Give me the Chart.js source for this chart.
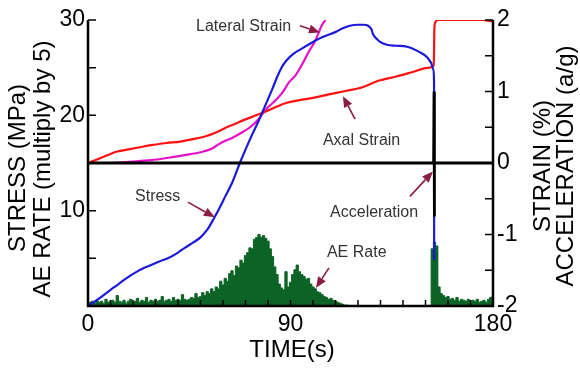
<!DOCTYPE html>
<html>
<head>
<meta charset="utf-8">
<script src="https://cdn.jsdelivr.net/npm/chart.js@4.4.0/dist/chart.umd.min.js"></script>
<style>
  body { margin: 0; background: #fff; }
</style>
</head>
<body>
<canvas id="chart" width="580" height="370"></canvas>
<script>
// stress (MPa), left axis
const stressTime = [0, 5, 10, 13, 17, 21, 25, 28, 32, 35.5, 40, 43, 47, 50, 53, 56, 58.5, 61, 64, 67.5, 70, 73, 76, 78, 80, 82, 84, 86, 88, 91, 95, 100, 104, 107.5, 110.5, 113, 116.4, 120, 122.3, 124.5, 126, 126.7, 128.4, 129.8, 132.9, 137, 141.8, 147.6, 150.7, 152.5, 153.5, 153.8, 153.85];
const stressValue = [0, 0.8, 1.7, 2.2, 2.9, 3.5, 4.0, 4.3, 4.7, 5.0, 5.6, 6.1, 6.7, 7.2, 8.0, 9.2, 10.3, 11.5, 12.9, 15.0, 16.4, 18.0, 19.5, 20.6, 21.7, 22.8, 24.0, 25.0, 25.7, 26.4, 27.0, 27.7, 28.2, 28.5, 28.8, 29.1, 29.4, 29.5, 29.5, 29.4, 29.0, 28.5, 28.0, 27.7, 27.4, 27.3, 27.2, 26.6, 26.1, 25.5, 24.8, 23.5, 4.8];

// axial strain (%), right axis
const axialTime = [0, 4, 8, 13, 18, 23, 28, 35, 41, 46, 52, 57, 61, 64, 70, 75, 79, 84, 88, 94, 100, 107, 115, 122, 129, 137, 144, 151, 153.6, 153.8, 153.9, 154.4, 155.5, 165, 175, 180];
const axialValue = [0, 0.05, 0.1, 0.16, 0.19, 0.22, 0.25, 0.28, 0.3, 0.33, 0.37, 0.43, 0.49, 0.53, 0.61, 0.67, 0.72, 0.79, 0.84, 0.88, 0.91, 0.96, 1.01, 1.06, 1.15, 1.21, 1.27, 1.33, 1.36, 1.55, 1.85, 1.97, 2.0, 2.0, 2.0, 1.98];

// lateral strain (%), right axis
const lateralTime = [0, 10, 15, 20, 28, 35, 43, 50, 55, 58, 61, 64, 68, 72, 76, 78, 80, 83.5, 86.3, 89.4, 92.3, 95, 98, 101, 104, 105.5];
const lateralValue = [0, 0, 0.01, 0.02, 0.04, 0.07, 0.11, 0.15, 0.2, 0.26, 0.31, 0.35, 0.42, 0.5, 0.62, 0.71, 0.78, 0.88, 0.98, 1.13, 1.23, 1.37, 1.55, 1.71, 1.93, 2.0];

// acceleration (a/g), right axis
const accelTime = [0, 153.6, 153.8, 153.9, 154.0, 180];
const accelValue = [0, 0, 1.0, -0.75, 0, 0];

// AE rate per second (x5), left axis, t = 0..180
const aeRate = [
  0.2, 0.4, 0.5, 0.3, 0.6, 0.4, 0.5, 0.3, 0.7, 0.4,
  0.5, 0.6, 0.4, 1.1, 0.5, 0.4, 0.6, 0.3, 0.5, 0.7,
  0.4, 0.5, 0.8, 0.4, 0.6, 0.5, 0.9, 0.4, 0.6, 0.5,
  0.7, 0.5, 0.6, 1.0, 0.5, 0.6, 0.7, 0.5, 0.9, 0.6,
  0.7, 0.6, 1.2, 0.7, 0.6, 0.7, 0.9, 0.8, 1.3, 0.9,
  1.0, 1.4, 1.1, 1.5, 1.3, 1.8, 1.5, 2.0, 1.8, 2.6,
  2.2, 2.9, 2.6, 3.4, 3.7, 3.2, 4.2, 4.0, 4.8, 4.5,
  5.3, 5.6, 6.1, 6.0, 7.0, 7.2, 7.5, 7.2, 7.4, 7.1,
  6.8, 6.0, 5.2, 4.1, 3.3, 2.3, 1.9, 1.7, 3.6, 2.0,
  2.5, 3.3, 3.8, 4.3, 3.6, 3.3, 3.1, 2.8, 2.9, 2.3,
  2.0, 1.8, 1.5, 1.4, 1.2, 1.0, 0.9, 0.7, 0.8, 0.6,
  0.5, 0.4, 0.3, 0.2, 0.1, 0.1, 0, 0, 0, 0,
  0, 0, 0, 0, 0, 0, 0, 0, 0, 0,
  0, 0, 0, 0, 0, 0, 0, 0, 0, 0,
  0, 0, 0, 0, 0, 0, 0, 0, 0, 0,
  0, 0, 0, 6.0, 6.7, 6.3, 2.0, 1.3, 1.1, 0.9,
  1.0, 0.7, 0.8, 0.6, 0.9, 0.5, 0.7, 0.6, 0.5, 0.7,
  0.4, 0.6, 0.5, 0.7, 0.4, 0.5, 0.6, 0.4, 0.7, 0.9,
  1.0
];

// callouts: text anchor and arrow (time, stress units)
const noteText = ['Lateral Strain', 'Axal Strain', 'Stress', 'Acceleration', 'AE Rate'];
const noteAt = [[48, 29.3], [104.4, 17.3], [20.9, 11.5], [107.6, 9.8], [106.2, 5.6]];
const arrowFrom = [[94.2, 29.4], [118.7, 19.6], [44.4, 10.9], [143.1, 11.5], [107.1, 4.0]];
const arrowTo = [[103.1, 28.7], [113.3, 22.0], [56.4, 9.3], [153.3, 14.1], [101.3, 1.9]];

const FONT = '"Liberation Sans", Arial, sans-serif';

function pts(xs, ys) {
  return xs.map((x, i) => ({ x: x, y: ys[i] }));
}

const decor = {
  id: 'decor',
  afterDatasetsDraw(chart) {
    const { ctx, chartArea: a, scales } = chart;
    const sx = scales.x, sl = scales.y, sr = scales.y2;
    ctx.save();
    ctx.strokeStyle = '#000';
    ctx.lineWidth = 1.5;
    ctx.beginPath();
    for (let v = 5; v <= 30; v += 5) {
      const py = sl.getPixelForValue(v);
      ctx.moveTo(a.left, py); ctx.lineTo(a.left + 8, py);
    }
    for (let v = -1.5; v <= 2; v += 0.5) {
      const py = sr.getPixelForValue(v);
      ctx.moveTo(a.right, py); ctx.lineTo(a.right - 8, py);
    }
    for (let v = 10; v < 180; v += 10) {
      const px = sx.getPixelForValue(v);
      ctx.moveTo(px, a.bottom); ctx.lineTo(px, a.bottom - 6);
    }
    ctx.stroke();

    // frame: left, bottom, right
    ctx.lineWidth = 2.5;
    ctx.beginPath();
    ctx.moveTo(a.left, a.top);
    ctx.lineTo(a.left, a.bottom);
    ctx.lineTo(a.right, a.bottom);
    ctx.lineTo(a.right, a.top);
    ctx.stroke();

    // callouts
    ctx.fillStyle = '#333';
    ctx.font = '16px ' + FONT;
    ctx.textBaseline = 'middle';
    ctx.textAlign = 'left';
    noteText.forEach((t, i) => {
      ctx.fillText(t, sx.getPixelForValue(noteAt[i][0]), sl.getPixelForValue(noteAt[i][1]));
    });
    ctx.strokeStyle = '#8b1c43';
    ctx.fillStyle = '#8b1c43';
    ctx.lineWidth = 1.6;
    arrowFrom.forEach((f, i) => {
      const x0 = sx.getPixelForValue(f[0]), y0 = sl.getPixelForValue(f[1]);
      const x1 = sx.getPixelForValue(arrowTo[i][0]), y1 = sl.getPixelForValue(arrowTo[i][1]);
      const ang = Math.atan2(y1 - y0, x1 - x0);
      const hl = 11, hw = 4.5;
      const bx = x1 - hl * Math.cos(ang), by = y1 - hl * Math.sin(ang);
      ctx.beginPath();
      ctx.moveTo(x0, y0); ctx.lineTo(bx, by);
      ctx.stroke();
      ctx.beginPath();
      ctx.moveTo(x1, y1);
      ctx.lineTo(bx + hw * Math.sin(ang), by - hw * Math.cos(ang));
      ctx.lineTo(bx - hw * Math.sin(ang), by + hw * Math.cos(ang));
      ctx.closePath();
      ctx.fill();
    });

    // axis titles
    ctx.fillStyle = '#000';
    ctx.font = '24px ' + FONT;
    ctx.textAlign = 'center';
    ctx.textBaseline = 'alphabetic';
    const vtitle = (text, x, y) => {
      ctx.save();
      ctx.translate(x, y);
      ctx.rotate(-Math.PI / 2);
      ctx.fillText(text, 0, 0);
      ctx.restore();
    };
    vtitle('STRESS (MPa)', 25, 168);
    vtitle('AE RATE (multiply by 5)', 50, 169);
    vtitle('STRAIN (%)', 550, 166);
    vtitle('ACCELERATION (a/g)', 573, 166);
    ctx.fillText('TIME(s)', 292, 357);
    ctx.restore();
  }
};

new Chart(document.getElementById('chart'), {
  type: 'line',
  data: {
    datasets: [
      {
        label: 'Acceleration',
        data: pts(accelTime, accelValue),
        yAxisID: 'y2',
        borderColor: '#000',
        borderWidth: 2.8,
        order: 0
      },
      {
        label: 'Stress',
        data: pts(stressTime, stressValue),
        yAxisID: 'y',
        borderColor: '#1a1ad8',
        borderWidth: 2.2,
        cubicInterpolationMode: 'monotone',
        order: 1
      },
      {
        label: 'Axal Strain',
        data: pts(axialTime, axialValue),
        yAxisID: 'y2',
        borderColor: '#ff1010',
        borderWidth: 2.2,
        cubicInterpolationMode: 'monotone',
        order: 2
      },
      {
        label: 'Lateral Strain',
        data: pts(lateralTime, lateralValue),
        yAxisID: 'y2',
        borderColor: '#e610c8',
        borderWidth: 2.2,
        cubicInterpolationMode: 'monotone',
        order: 3
      },
      {
        label: 'AE Rate',
        data: aeRate.map((v, i) => ({ x: i, y: v })),
        yAxisID: 'y',
        borderColor: '#0b6325',
        backgroundColor: '#0b6325',
        borderWidth: 1,
        stepped: 'middle',
        fill: 'origin',
        order: 4
      }
    ]
  },
  options: {
    responsive: false,
    animation: false,
    layout: { padding: { top: 20 } },
    elements: { point: { radius: 0 }, line: { tension: 0 } },
    plugins: { legend: { display: false }, tooltip: { enabled: false } },
    scales: {
      x: {
        type: 'linear',
        min: 0, max: 180,
        grid: { display: false, drawTicks: false },
        border: { display: false },
        ticks: { stepSize: 90, padding: 5, color: '#000', font: { family: FONT, size: 23 }, maxRotation: 0 },
        afterFit: s => { s.height = 64; }
      },
      y: {
        position: 'left',
        min: 0, max: 30,
        grid: { display: false, drawTicks: false },
        border: { display: false },
        ticks: { stepSize: 10, padding: 3, color: '#000', font: { family: FONT, size: 23 },
          callback: v => (v === 0 ? '' : v) },
        afterFit: s => { s.width = 88; }
      },
      y2: {
        position: 'right',
        min: -2, max: 2,
        grid: { display: false, drawTicks: false },
        border: { display: false },
        ticks: { stepSize: 1, padding: 4, color: '#000', font: { family: FONT, size: 23 } },
        afterFit: s => { s.width = 87; }
      }
    }
  },
  plugins: [decor]
});
</script>
</body>
</html>
